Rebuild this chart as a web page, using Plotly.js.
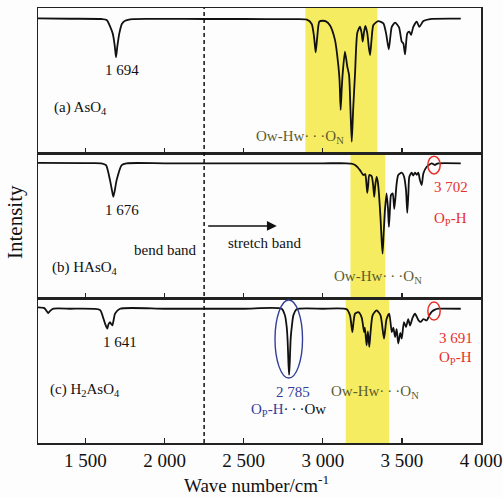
<!DOCTYPE html>
<html>
<head>
<meta charset="utf-8">
<script src="https://cdn.plot.ly/plotly-3.0.1.min.js"></script>
<style>html,body{margin:0;padding:0;background:#fdfdfd;}#chart{width:503px;height:497px;}</style>
</head>
<body>
<div id="chart"></div>
<script>
// (a) AsO4 spectrum
const wnA = [1200,1400,1600,1634,1672,1685,1693,1702,1714,1730,1750,1800,2000,2250,2500,2800,2900,2930,2945,2955,2965,2978,3000,3020,3046,3077,3098,3106,3113,3120,3126,3140,3155,3166,3175,3183,3192,3204,3218,3235,3245,3252,3260,3269,3281,3292,3299,3308,3320,3351,3383,3400,3417,3427,3436,3457,3482,3499,3509,3520,3534,3547,3558,3572,3594,3610,3636,3678,3872];
const intA = [92.9,92.6,92.4,91.7,82.5,74,66,74,82.5,89,91.2,92.4,92.5,92.4,92.4,92.3,92,89,80,69.4,80,90.6,91.2,90.8,88,78,60.7,50,29.7,45,55,69.9,59.5,53.8,30,7.8,30,55,82.8,87.1,83,76.8,83,87.6,82.8,72,67.6,78,88.3,91,89.4,82.5,71.5,80,87,89.9,86.7,76.8,75.6,68,82.5,83.7,81.4,87,90.6,87,91,92.4,92.7];
// (b) HAsO4 spectrum
const wnB = [1200,1500,1600,1630,1655,1668,1676,1685,1697,1729,1760,2000,2500,3000,3151,3180,3204,3235,3256,3268,3275,3281,3287,3294,3309,3318,3325,3332,3340,3348,3355,3365,3372,3378,3385,3393,3403,3412,3418,3425,3431,3442,3452,3467,3477,3499,3513,3526,3534,3541,3547,3562,3572,3583,3594,3604,3614,3625,3636,3657,3688,3700,3709,3720,3730,3872];
const intB = [93.2,93,92.9,91.7,81.3,74,69.8,74,81.3,91.7,92.9,92.9,92.9,92.9,92.9,92.6,91.7,88.2,84.8,85.5,80,72.5,78,84.8,84,78,69.8,78,83.6,80,72.1,55,40,30.6,45,60.6,72.1,62,49,62,71,72.1,61.4,79,84.8,86.4,84,74.4,58.7,72,83.6,86.4,84.5,86.4,85,86.4,81.3,77.9,86,90.5,92.9,92.3,91.7,92.5,92.9,92.9];
// (c) H2AsO4 spectrum
const wnC = [1200,1240,1258,1265,1275,1297,1400,1592,1610,1624,1638,1646,1655,1663,1670,1680,1687,1718,2000,2500,2740,2761,2772,2778,2783,2787,2791,2797,2806,2814,2835,3000,3151,3172,3187,3195,3204,3225,3246,3261,3266,3277,3285,3294,3302,3315,3340,3365,3387,3403,3420,3436,3446,3457,3467,3477,3490,3499,3513,3526,3540,3552,3568,3583,3604,3620,3636,3657,3673,3688,3709,3730,3872];
const intC = [93.5,93,90.5,89.6,91,92.6,92.6,91.8,87,82.3,78.9,82,83.4,82,81.1,86,89.2,92.6,92.6,92.6,92.6,88,80,70,55,47,55,72,82,88,92.3,92.6,92.3,88,76.5,84,89.2,90.2,86.5,76.5,79.5,67.4,77,66.3,76.5,88,91.5,88,72,85.5,89.2,76.5,79.5,73.1,78.5,68.6,76,72,83.4,80,85.5,81,86.5,89.2,84.8,83.5,85.5,84.5,88,90.5,92,92.6,92.6];

// highlighted Ow-Hw...ON regions [start, end]
const bandA = [2890, 3345];
const bandB = [3175, 3395];
const bandC = [3145, 3420];
const divider = 2250;

const tickVals = [1500, 2000, 2500, 3000, 3500, 4000];
const tickText = ["1 500", "2 000", "2 500", "3 000", "3 500", "4 000"];

const peakA = "1 694", peakB = "1 676", peakC = "1 641";
const opB = "3 702", opC = "3 691", ophowLabel = "2 785";
const ophow = 2785;

const serif = "Liberation Serif, Times New Roman, serif";
const olive = "#5c5c2e";
const red = "#e8302a";
const blue = "#33409a";

const lineStyle = {color: "#111", width: 1.8, shape: "spline", smoothing: 0.6};
const traces = [
  {x: wnA, y: intA, xaxis: "x3", yaxis: "y3", mode: "lines", line: lineStyle, hoverinfo: "skip"},
  {x: wnB, y: intB, xaxis: "x2", yaxis: "y2", mode: "lines", line: lineStyle, hoverinfo: "skip"},
  {x: wnC, y: intC, xaxis: "x", yaxis: "y", mode: "lines", line: lineStyle, hoverinfo: "skip"}
];

function xax(extra) {
  return Object.assign({
    range: [1200, 4000], tickvals: tickVals, ticktext: tickText,
    ticks: "inside", ticklen: 5, tickwidth: 1.3, tickcolor: "#222",
    showline: true, mirror: true, linecolor: "#222", linewidth: 1.5,
    showgrid: false, zeroline: false, domain: [0, 1],
    tickfont: {family: serif, size: 19, color: "#111"}
  }, extra);
}
function yax(domain) {
  return {domain: domain, range: [0, 100], showticklabels: false, ticks: "",
    showline: true, mirror: true, linecolor: "#222", linewidth: 1.5,
    showgrid: false, zeroline: false};
}

const shapes = [
  {type: "rect", xref: "x3", yref: "y3 domain", x0: bandA[0], x1: bandA[1], y0: 0, y1: 1, fillcolor: "#f6ec62", line: {width: 0}, layer: "below"},
  {type: "rect", xref: "x2", yref: "y2 domain", x0: bandB[0], x1: bandB[1], y0: 0, y1: 1, fillcolor: "#f6ec62", line: {width: 0}, layer: "below"},
  {type: "rect", xref: "x", yref: "y domain", x0: bandC[0], x1: bandC[1], y0: 0, y1: 1, fillcolor: "#f6ec62", line: {width: 0}, layer: "below"},
  {type: "line", xref: "x", yref: "paper", x0: divider, x1: divider, y0: 0, y1: 1, line: {color: "#111", width: 1.5, dash: "4px,3px"}},
  {type: "circle", xref: "x2", yref: "y2", x0: 3703 - 39, x1: 3703 + 39, y0: 91.7 - 6.1, y1: 91.7 + 6.1, line: {color: red, width: 1.5}},
  {type: "circle", xref: "x", yref: "y", x0: 3703 - 39, x1: 3703 + 39, y0: 91 - 6.2, y1: 91 + 6.2, line: {color: red, width: 1.5}},
  {type: "circle", xref: "x", yref: "y", x0: ophow - 87, x1: ophow + 87, y0: 71.7 - 26.9, y1: 71.7 + 26.9, line: {color: blue, width: 1.4}}
];

function ann(text, x, y, xr, yr, color, anchor, size) {
  return {text: text, x: x, y: y, xref: xr, yref: yr, showarrow: false,
    xanchor: anchor || "center", yanchor: "middle",
    font: {family: serif, size: size || 15, color: color || "#111"}};
}
const dots = "\u00B7\u2009\u00B7\u2009\u00B7";
const annotations = [
  ann(peakA, 1729, 57.2, "x3", "y3"),
  ann("(a) AsO<sub>4</sub>", 1290, 31, "x3", "y3", "#111", "left"),
  ann("Ow-Hw" + dots + "O<sub>N</sub>", 2856, 11, "x3", "y3", olive),
  ann(peakB, 1729, 60.7, "x2", "y2"),
  ann("bend band", 2218, 33.1, "x2", "y2", "#111", "right"),
  ann("stretch band", 2388, 37.9, "x2", "y2", "#111", "left"),
  ann("(b) HAsO<sub>4</sub>", 1275, 20.7, "x2", "y2", "#111", "left"),
  ann("Ow-Hw" + dots + "O<sub>N</sub>", 3349, 14.7, "x2", "y2", olive),
  ann(opB, 3810, 76.8, "x2", "y2", red),
  ann("O<sub>P</sub>-H", 3810, 54.5, "x2", "y2", red),
  ann(peakC, 1718, 69.9, "x", "y"),
  ann("(c) H<sub>2</sub>AsO<sub>4</sub>", 1265, 36.6, "x", "y", "#111", "left"),
  ann(ophowLabel, 2809, 35.4, "x", "y", blue),
  ann("<span style='color:" + blue + "'>O<sub>P</sub>-H</span>" + dots + "Ow", 2786, 22.8, "x", "y", "#111"),
  ann("Ow-Hw" + dots + "O<sub>N</sub>", 3330, 35.4, "x", "y", olive),
  ann(opC, 3842, 72.6, "x", "y", red),
  ann("O<sub>P</sub>-H", 3836, 58.4, "x", "y", red),
  ann("Intensity", -0.052, 0.508, "paper", "paper", "#111", "center", 21),
  ann("Wave number/cm<sup>-1</sup>", 0.494, -0.095, "paper", "paper", "#111", "center", 19),
  {x: 2709, y: 49.7, ax: 2266, ay: 49.7, xref: "x2", yref: "y2", axref: "x2", ayref: "y2",
    text: "", showarrow: true, arrowhead: 2, arrowsize: 1.4, arrowwidth: 1.4, arrowcolor: "#111", standoff: 0}
];
annotations[annotations.length - 3].textangle = -90;

const layout = {
  width: 503, height: 497,
  margin: {l: 38, r: 22, t: 8, b: 54},
  paper_bgcolor: "#fdfdfd", plot_bgcolor: "#fdfdfd",
  showlegend: false,
  xaxis: xax({anchor: "y"}),
  xaxis2: xax({anchor: "y2", matches: "x", showticklabels: false}),
  xaxis3: xax({anchor: "y3", matches: "x", showticklabels: false}),
  yaxis: yax([0, 1/3]),
  yaxis2: yax([1/3, 2/3]),
  yaxis3: yax([2/3, 1]),
  shapes: shapes,
  annotations: annotations
};

Plotly.newPlot("chart", traces, layout, {staticPlot: true, displayModeBar: false});
</script>
</body>
</html>
